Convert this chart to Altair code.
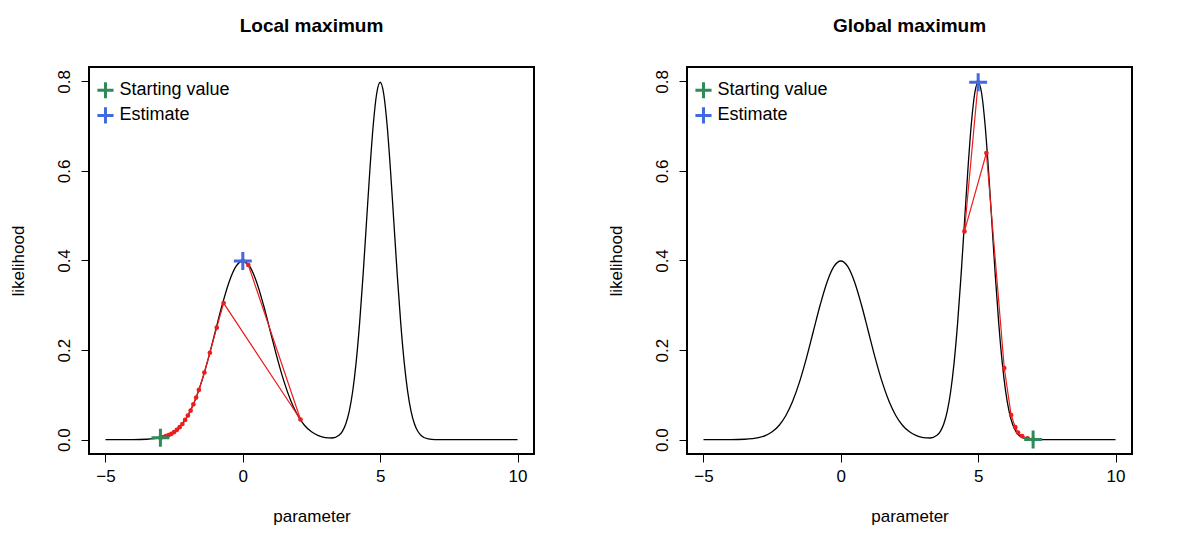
import altair as alt
import pandas as pd

curve_x = [-5,-4,-3.5,-3,-2.75,-2.5,-2.25,-2,-1.75,-1.5,-1.25,-1,-0.75,-0.5,-0.25,0,0.25,0.5,0.75,1,1.25,1.5,1.75,2,2.25,2.5,2.75,3,3.25,3.5,3.625,3.75,3.875,4,4.125,4.25,4.375,4.5,4.625,4.75,4.875,5,5.125,5.25,5.375,5.5,5.625,5.75,5.875,6,6.125,6.25,6.375,6.5,6.75,7,8,10]
curve_y = [0,0.0001,0.0009,0.0044,0.0091,0.0175,0.0317,0.0540,0.0863,0.1295,0.1826,0.2420,0.3011,0.3521,0.3867,0.3989,0.3867,0.3521,0.3011,0.2420,0.1826,0.1295,0.0863,0.0540,0.0317,0.0175,0.0091,0.0047,0.0037,0.0098,0.0187,0.0354,0.0636,0.1081,0.1726,0.2590,0.3652,0.4839,0.6022,0.7041,0.7734,0.7979,0.7734,0.7041,0.6022,0.4839,0.3652,0.2590,0.1726,0.1080,0.0634,0.0350,0.0182,0.0089,0.0017,0.0003,0,0]

path1_x = [-3,-2.9,-2.8,-2.7,-2.6,-2.5,-2.4,-2.3,-2.2,-2.1,-2.0,-1.9,-1.8,-1.7,-1.6,-1.4,-1.2,-0.95,-0.7,2.1,0.2,0]
path1_y = [0.0044,0.006,0.008,0.010,0.013,0.017,0.022,0.028,0.035,0.044,0.054,0.065,0.079,0.094,0.111,0.150,0.194,0.25,0.305,0.045,0.39,0.399]
path2_x = [7,6.8,6.6,6.45,6.35,6.2,5.95,5.3,4.5,5.0]
path2_y = [0.0003,0.003,0.008,0.016,0.028,0.055,0.16,0.64,0.465,0.798]

start1, est1 = (-3, 0.0044), (0, 0.399)
start2, est2 = (7, 0.0003), (5, 0.798)
titles = ["Local maximum", "Global maximum"]
legend_labels = ["Starting value", "Estimate"]

FONT = "Liberation Sans"
PLUS = "M-1,0L1,0M0,-1L0,1"
W, H = 445, 387
xs = alt.Scale(domain=[-5.6, 10.6], nice=False, zero=False)
ys = alt.Scale(domain=[-0.032, 0.832], nice=False, zero=False)
cscale = alt.Scale(domain=legend_labels, range=["#2e8b57", "#4169e1"])

def panel(title, px, py, start, est):
    cdf = pd.DataFrame({"x": curve_x, "y": curve_y})
    pdf = pd.DataFrame({"x": px, "y": py, "o": range(len(px))})
    X = alt.X("x:Q", scale=xs, title="parameter",
              axis=alt.Axis(values=[-5, 0, 5, 10], grid=False, domain=False, tickSize=8,
                            labelFontSize=17, titleFontSize=17, titleFontWeight="normal",
                            labelFont=FONT, titleFont=FONT, titlePadding=24, labelColor="black",
                            titleColor="black", tickColor="black", labelPadding=6))
    Y = alt.Y("y:Q", scale=ys, title="likelihood",
              axis=alt.Axis(values=[0, 0.2, 0.4, 0.6, 0.8], format=".1f", grid=False, domain=False,
                            tickSize=8, labelAngle=270, labelAlign="center", labelBaseline="bottom",
                            labelFontSize=17, titleFontSize=17, titleFontWeight="normal",
                            labelFont=FONT, titleFont=FONT, titlePadding=28, labelColor="black",
                            titleColor="black", tickColor="black", labelPadding=8))
    frame = alt.Chart(cdf).mark_rect(fill=None, stroke="black", strokeWidth=1.2).encode(
        x=alt.value(0), x2=alt.value(W), y=alt.value(0), y2=alt.value(H))
    curve = alt.Chart(cdf).mark_line(color="black", strokeWidth=1.3, interpolate="monotone").encode(x=X, y=Y)
    red = alt.Chart(pdf).mark_line(color="#ee1c1c", strokeWidth=1.2,
                                   point=alt.OverlayMarkDef(color="#ee1c1c", size=22, filled=True, opacity=1)).encode(
        x="x:Q", y="y:Q", order="o:Q")
    mk = pd.DataFrame({"x": [start[0], est[0]], "y": [start[1], est[1]], "k": legend_labels})
    marks = alt.Chart(mk).mark_point(shape=PLUS, size=320, strokeWidth=3, filled=False, opacity=1).encode(
        x="x:Q", y="y:Q", color=alt.Color("k:N", scale=cscale, legend=None))
    lg = pd.DataFrame({"x": [-5.0, -5.0], "y": [0.78, 0.724], "k": legend_labels})
    lgm = alt.Chart(lg).mark_point(shape=PLUS, size=260, strokeWidth=3, filled=False, opacity=1).encode(
        x="x:Q", y="y:Q", color=alt.Color("k:N", scale=cscale, legend=None))
    lgt = alt.Chart(lg).mark_text(align="left", dx=14, fontSize=18, font=FONT, color="black").encode(
        x="x:Q", y="y:Q", text="k:N")
    return alt.layer(curve, red, marks, lgm, lgt, frame).properties(
        width=W, height=H,
        title=alt.TitleParams(title, fontSize=19, font=FONT, fontWeight="bold", offset=30))

c = alt.hconcat(panel(titles[0], path1_x, path1_y, start1, est1),
                panel(titles[1], path2_x, path2_y, start2, est2), spacing=70).properties(
    padding={"left": 0, "top": 8, "right": 0, "bottom": 0}).configure_view(
    strokeWidth=0).configure(background="white")
c.save("out.html", embed_options={"renderer": "svg", "actions": False})
